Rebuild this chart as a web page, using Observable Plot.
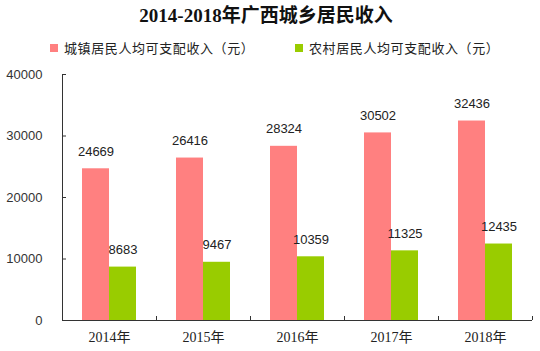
<!DOCTYPE html>
<html><head><meta charset="utf-8">
<script src="https://cdn.jsdelivr.net/npm/d3@7"></script>
<script src="https://cdn.jsdelivr.net/npm/@observablehq/plot@0.6"></script>
<style>
body{margin:0;background:#fff;width:540px;font-family:"Liberation Sans","Noto Sans CJK SC",sans-serif;}
#title{height:30px;line-height:32px;text-align:center;font:bold 19px "Liberation Serif","Noto Sans CJK SC",serif;color:#111;padding-right:8px;box-sizing:border-box}
#legend{height:30px;position:relative;font-size:13px;color:#222;letter-spacing:0.6px}
.sw{display:inline-block;width:8px;height:8px;margin-right:6px}
.item{display:flex;align-items:center;position:absolute;top:8px}
</style></head>
<body>
<div id="title">2014-2018年广西城乡居民收入</div>
<div id="legend"></div>
<div id="chart"></div>
<script>
const years = ["2014年","2015年","2016年","2017年","2018年"];
const seriesNames = ["城镇居民人均可支配收入（元）","农村居民人均可支配收入（元）"];
const urban = [24669,26416,28324,30502,32436];
const rural = [8683,9467,10359,11325,12435];
const yTicks = [0,10000,20000,30000,40000];
const colors = ["#FF8080","#99CC00"];

const data = years.map((y,i)=>({year:y, urban:urban[i], rural:rural[i]}));

const leg = document.getElementById("legend");
[[50,0],[295,1]].forEach(([left,i])=>{
  const d=document.createElement("div");d.className="item";d.style.left=left+"px";
  d.innerHTML=`<span class="sw" style="background:${colors[i]}"></span>${seriesNames[i]}`;
  leg.appendChild(d);
});

const W=540, H=291, mL=62, mR=8, mT=14, mB=31;
const plotW=W-mL-mR, plotH=H-mT-mB;
const step=plotW/years.length, half=step/2, barW=27;
const chart = Plot.plot({
  width:W, height:H, marginLeft:mL, marginRight:mR, marginTop:mT, marginBottom:mB,
  style:{fontFamily:"Liberation Sans, sans-serif", fontSize:"13px", color:"#333", background:"#fff", overflow:"visible"},
  x:{domain:years, padding:0, label:null},
  y:{domain:[0,40000], label:null},
  marks:[
    Plot.barY(data,{x:"year", y:"urban", fill:colors[0], insetLeft:half-barW, insetRight:half}),
    Plot.barY(data,{x:"year", y:"rural", fill:colors[1], insetLeft:half, insetRight:half-barW}),
    Plot.text(data,{x:"year", y:"urban", text:d=>String(d.urban), dx:-barW/2, dy:-17, fontSize:13, fill:"#222"}),
    Plot.text(data,{x:"year", y:"rural", text:d=>String(d.rural), dx:barW/2, dy:-17, fontSize:13, fill:"#222"}),
    Plot.axisY({ticks:yTicks, tickFormat:d=>String(d), tickSize:0, tickPadding:20, fontSize:13, fill:"#333", label:null}),
    Plot.ruleY(yTicks,{stroke:"#333", insetRight:plotW-4}),
    Plot.ruleY([0],{stroke:"#333"}),
    Plot.ruleX([years[0]],{dx:-half, stroke:"#333"}),
    Plot.ruleX(years,{dx:half, stroke:"#333", insetTop:plotH-4}),
    Plot.axisX({tickSize:0, tickPadding:12, fontSize:14, fontFamily:"Liberation Serif, Noto Sans CJK SC, serif", fill:"#222", label:null})
  ]
});
document.getElementById("chart").appendChild(chart);
</script>
</body></html>
